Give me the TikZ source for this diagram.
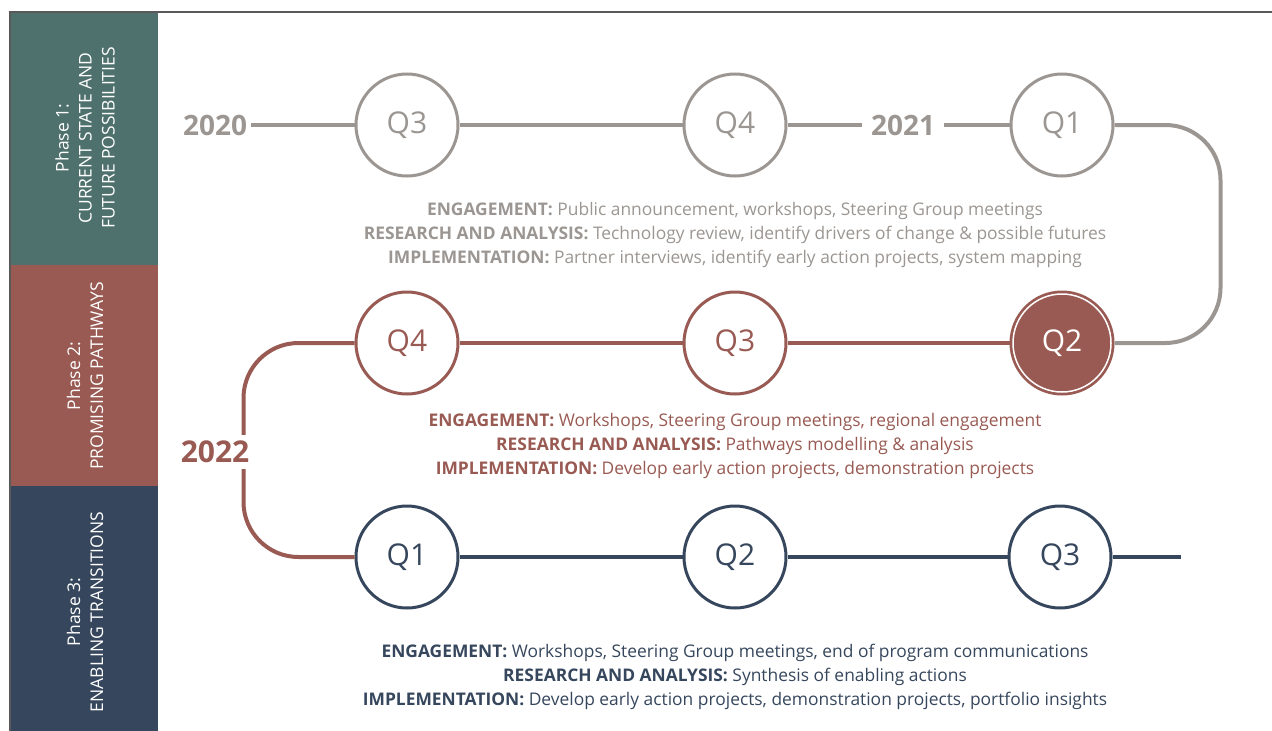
\documentclass[tikz,border=0pt]{standalone}
\usepackage{fontspec}
\setmainfont{Open Sans}
\usetikzlibrary{positioning, calc}
\definecolor{abufase}{RGB}{155,150,146}
\definecolor{hijaufase}{RGB}{79,113,109}
\definecolor{merahfase}{RGB}{152,90,82}
\definecolor{birufase}{RGB}{54,71,93}

\tikzset{
    kuartal/.style={circle, draw, line width=3pt, fill=white, minimum size=102pt,
        inner sep=0pt, font=\fontsize{30}{30}\selectfont},
    tahun/.style={font=\fontsize{28}{28}\selectfont\bfseries, inner sep=2pt},
    garis/.style={line width=4pt},
    fase/.style={rotate=90, white, align=center, font=\fontsize{17.5}{23}\selectfont},
    ket/.style={align=center, font=\fontsize{17.4}{24}\selectfont}
}

\begin{document}
\begin{tikzpicture}[x=1pt, y=-1pt]
                \useasboundingbox (0,0) rectangle (1272,731);
                % pita fase di kiri
                \fill[hijaufase] (10,12) rectangle (158,265);
                \fill[merahfase] (10,265) rectangle (158,486);
                \fill[birufase]  (10,486) rectangle (158,731);
                \draw[black!65, line width=1.2pt] (10,731) -- (10,12) -- (1272,12);
                \node[fase] (fase1) at (85,138) {Phase 1:\\CURRENT STATE AND\\FUTURE POSSIBILITIES};
                \node[fase] (fase2) at (85,376) {Phase 2:\\PROMISING PATHWAYS};
                \node[fase] (fase3) at (85,612) {Phase 3:\\ENABLING TRANSITIONS};

                % baris 1
                \node[abufase, kuartal] (q3a) at (407,125) {Q3};
                \node[abufase, kuartal] (q4a) at (735,125) {Q4};
                \node[abufase, kuartal] (q1a) at (1062,125) {Q1};
                \node[abufase, tahun, inner xsep=4pt] (th2020) at (215,125) {2020};
                \node[abufase, tahun, inner xsep=9pt] (th2021) at (903,125) {2021};
                \draw[garis, abufase] (th2020.east) -- (q3a.west);
                \draw[garis, abufase] (q3a.east) -- (q4a.west);
                \draw[garis, abufase] (q4a.east) -- (th2021.west);
                \draw[garis, abufase] (th2021.east) -- (q1a.west);

                % baris 2
                \node[merahfase, kuartal] (q4b) at (407,343) {Q4};
                \node[merahfase, kuartal] (q3b) at (735,343) {Q3};
                \node[merahfase, kuartal, fill=merahfase, text=white] (q2b) at (1062,343) {Q2};
                \draw[white, line width=1.5pt] (q2b.center) circle (49);
                \draw[garis, abufase, rounded corners=55pt] (q1a.east) -- ++(106,0) |- (q2b.east);
                \draw[garis, merahfase] (q4b.east) -- (q3b.west);
                \draw[garis, merahfase] (q3b.east) -- (q2b.west);

                % baris 3
                \node[birufase, kuartal] (q1c) at (407,557) {Q1};
                \node[birufase, kuartal] (q2c) at (735,557) {Q2};
                \node[birufase, kuartal] (q3c) at (1060,557) {Q3};
                \coordinate (ujung) at (1181,557);
                \draw[garis, merahfase, rounded corners=55pt] (q4b.west) -- ++(-111,0) |- (q1c.west);
                \node[merahfase, tahun, fill=white, font=\fontsize{30}{30}\selectfont\bfseries,
                    inner ysep=6pt] (th2022) at (215,452) {2022};
                \draw[garis, birufase] (q1c.east) -- (q2c.west);
                \draw[garis, birufase] (q2c.east) -- (q3c.west);
                \draw[garis, birufase] (q3c.east) -- (ujung);

                % keterangan tiap fase
                \node[ket, abufase] (ket1) at (735,235) {\textbf{ENGAGEMENT:} Public announcement, workshops, Steering Group meetings\\
                    \textbf{RESEARCH AND ANALYSIS:} Technology review, identify drivers of change \& possible futures\\
                    \textbf{IMPLEMENTATION:} Partner interviews, identify early action projects, system mapping};
                \node[ket, merahfase] (ket2) at (735,446) {\textbf{ENGAGEMENT:} Workshops, Steering Group meetings, regional engagement\\
                    \textbf{RESEARCH AND ANALYSIS:} Pathways modelling \& analysis\\
                    \textbf{IMPLEMENTATION:} Develop early action projects, demonstration projects};
                \node[ket, birufase] (ket3) at (735,677) {\textbf{ENGAGEMENT:} Workshops, Steering Group meetings, end of program communications\\
                    \textbf{RESEARCH AND ANALYSIS:} Synthesis of enabling actions\\
                    \textbf{IMPLEMENTATION:} Develop early action projects, demonstration projects, portfolio insights};
            \end{tikzpicture}
\end{document}
